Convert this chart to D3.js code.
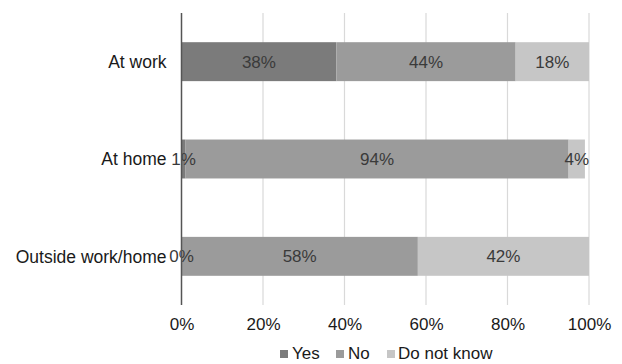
<!DOCTYPE html>
<html><head><meta charset="utf-8">
<script src="https://cdn.jsdelivr.net/npm/d3@7/dist/d3.min.js"></script>
<style>body{margin:0;background:#fff}svg{display:block}text{font-family:"Liberation Sans",Arial,sans-serif}</style>
</head><body>
<svg id="c" width="622" height="364"></svg>
<script>
const categories = ["At work", "At home", "Outside work/home"];
const seriesNames = ["Yes", "No", "Do not know"];
const yesValues = [38, 1, 0];
const noValues = [44, 94, 58];
const dkValues = [18, 4, 42];
const tickValues = [0, 20, 40, 60, 80, 100];
const colors = ["#7b7b7b", "#9b9b9b", "#c6c6c6"];

const svg = d3.select("#c");
const x = d3.scaleLinear().domain([0, 100]).range([181.5, 589]);
const y = d3.scaleBand().domain(categories).range([13, 305]).paddingInner(0.6).paddingOuter(0.3);

const rows = categories.map((c, i) => ({cat: c, Yes: yesValues[i], No: noValues[i], "Do not know": dkValues[i]}));
const stack = d3.stack().keys(seriesNames)(rows);

// gridlines
svg.append("g").selectAll("line").data(tickValues.slice(1)).join("line")
  .attr("x1", d => x(d)).attr("x2", d => x(d)).attr("y1", 13).attr("y2", 305)
  .attr("stroke", "#d9d9d9").attr("stroke-width", 1.2);

// bars
stack.forEach((s, si) => {
  svg.append("g").selectAll("rect").data(s).join("rect")
    .attr("x", d => x(d[0])).attr("width", d => x(d[1]) - x(d[0]))
    .attr("y", d => y(d.data.cat)).attr("height", y.bandwidth())
    .attr("fill", colors[si]);
});

// value labels
stack.forEach((s, si) => {
  svg.append("g").selectAll("text").data(s).join("text")
    .attr("x", d => (x(d[0]) + x(d[1])) / 2)
    .attr("y", d => y(d.data.cat) + y.bandwidth() / 2)
    .attr("dy", "0.36em").attr("text-anchor", "middle")
    .attr("font-size", 17).attr("fill", "#3a3a3a")
    .text(d => (d[1] - d[0]) + "%");
});

// axis line
svg.append("line").attr("x1", x(0)).attr("x2", x(0)).attr("y1", 13).attr("y2", 305)
  .attr("stroke", "#555").attr("stroke-width", 1.5);

// category labels
const yAxis = d3.axisLeft(y).tickSize(0).tickPadding(15);
const gy = svg.append("g").attr("transform", `translate(${x(0)},0)`).call(yAxis);
gy.select(".domain").remove();
gy.selectAll("text").attr("font-size", 17.5).attr("fill", "#1a1a1a").attr("dy", "0.36em")
  .style("font-family", '"Liberation Sans",Arial,sans-serif');

// x tick labels
const xAxis = d3.axisBottom(x).tickValues(tickValues).tickFormat(d => d + "%").tickSize(0).tickPadding(0);
const gx = svg.append("g").attr("transform", "translate(0,318)").call(xAxis);
gx.select(".domain").remove();
gx.selectAll("text").attr("font-size", 17).attr("fill", "#1a1a1a").attr("dy", "0.72em")
  .style("font-family", '"Liberation Sans",Arial,sans-serif');

// legend
const legendSq = [280, 336, 387];
const legendTx = [292, 348, 398];
const lg = svg.append("g");
seriesNames.forEach((n, i) => {
  lg.append("rect").attr("x", legendSq[i]).attr("y", 350).attr("width", 8).attr("height", 8).attr("fill", colors[i]);
  lg.append("text").attr("x", legendTx[i]).attr("y", 359).attr("font-size", 17).attr("fill", "#1a1a1a").text(n);
});
</script>
</body></html>
